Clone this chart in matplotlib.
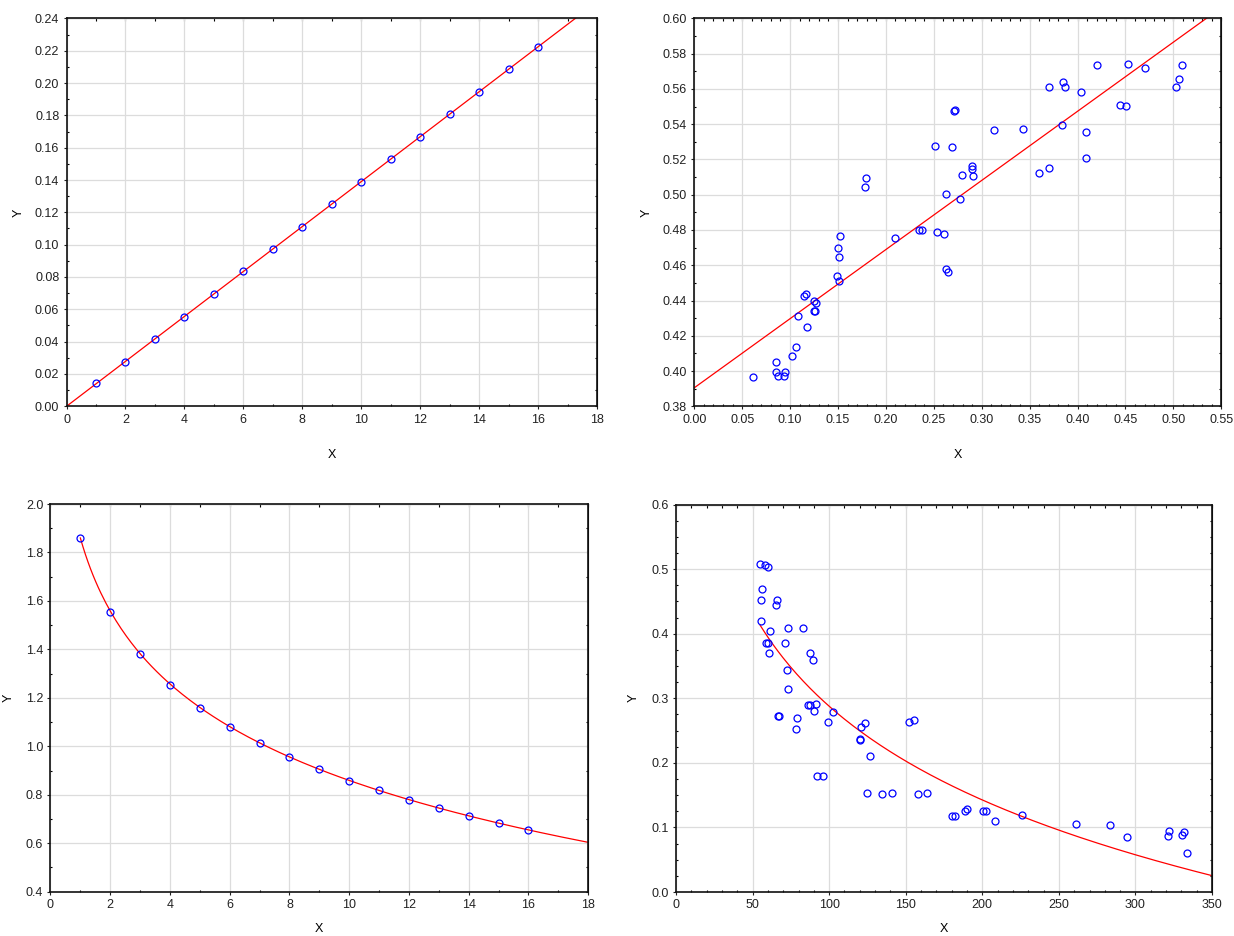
import numpy as np
import matplotlib.pyplot as plt
from matplotlib.ticker import MultipleLocator, FormatStrFormatter

plt.rcParams['font.family'] = ['Liberation Sans', 'DejaVu Sans']
plt.rcParams['font.size'] = 9

# Линейная зависимость, точные точки
x1 = [1, 2, 3, 4, 5, 6, 7, 8, 9, 10, 11, 12, 13, 14, 15, 16]
y1 = [0.0142, 0.0277, 0.0418, 0.0555, 0.0695, 0.0835, 0.0972, 0.1112,
      0.1252, 0.1390, 0.1530, 0.1668, 0.1807, 0.1947, 0.2085, 0.2225]
k1 = 0.0139

# Линейная зависимость, разброс
x2 = [0.0611, 0.0851, 0.0851, 0.0876, 0.0952, 0.0938, 0.1022, 0.1057,
      0.1081, 0.1175, 0.1150, 0.1164, 0.1248, 0.1272, 0.1251, 0.1262,
      0.1488, 0.1512, 0.1502, 0.1512, 0.1523, 0.2097, 0.2343, 0.2375,
      0.2538, 0.2611, 0.2632, 0.2646, 0.1789, 0.1778, 0.2509, 0.2689,
      0.2717, 0.2710, 0.2631, 0.2775, 0.2797, 0.2894, 0.2894, 0.2905,
      0.3131, 0.3430, 0.3599, 0.3697, 0.3707, 0.3848, 0.3866, 0.3837,
      0.4031, 0.4093, 0.4093, 0.4200, 0.4438, 0.4510, 0.4525, 0.4705,
      0.5025, 0.5061, 0.5086]
y2 = [0.3966, 0.4051, 0.3992, 0.3972, 0.3992, 0.3972, 0.4083, 0.4134,
      0.4314, 0.4250, 0.4424, 0.4437, 0.4399, 0.4384, 0.4341, 0.4341,
      0.4540, 0.4508, 0.4695, 0.4644, 0.4766, 0.4753, 0.4800, 0.4800,
      0.4791, 0.4779, 0.4580, 0.4559, 0.5094, 0.5042, 0.5275, 0.5270,
      0.5481, 0.5475, 0.5006, 0.4977, 0.5113, 0.5162, 0.5147, 0.5108,
      0.5366, 0.5374, 0.5121, 0.5153, 0.5611, 0.5640, 0.5611, 0.5396,
      0.5585, 0.5353, 0.5209, 0.5734, 0.5508, 0.5502, 0.5742, 0.5721,
      0.5611, 0.5657, 0.5734]
a2, b2 = 0.3905, 0.392

# Логарифмическая зависимость, точные точки
x3 = [1, 2, 3, 4, 5, 6, 7, 8, 9, 10, 11, 12, 13, 14, 15, 16]
y3 = [1.860, 1.555, 1.383, 1.255, 1.160, 1.081, 1.014, 0.956,
      0.905, 0.859, 0.818, 0.780, 0.745, 0.713, 0.683, 0.655]
a3, b3 = 1.86, -0.4346

# Логарифмическая зависимость, разброс
x4 = [55.0, 58.3, 60.4, 56.1, 55.4, 65.7, 65.0, 55.4, 61.3, 73.3, 82.8,
      58.7, 60.4, 60.7, 71.1, 87.4, 89.6, 72.4, 73.3, 66.5, 67.2, 79.1,
      78.3, 86.5, 87.6, 91.3, 90.2, 102.2, 99.3, 120.9, 123.3, 120.0,
      120.4, 127.0, 92.0, 96.3, 124.8, 134.3, 141.3, 158.3, 164.1, 152.2,
      155.4, 180.1, 182.0, 188.5, 190.3, 200.6, 202.6, 208.4, 226.0,
      261.5, 283.1, 294.6, 322.0, 321.3, 332.0, 330.2, 333.5]
y4 = [0.508, 0.506, 0.503, 0.469, 0.452, 0.452, 0.444, 0.420, 0.404, 0.409,
      0.409, 0.385, 0.386, 0.370, 0.385, 0.370, 0.360, 0.344, 0.314, 0.273,
      0.272, 0.270, 0.252, 0.289, 0.289, 0.291, 0.280, 0.278, 0.264, 0.256,
      0.262, 0.237, 0.236, 0.211, 0.179, 0.179, 0.153, 0.152, 0.153, 0.152,
      0.153, 0.264, 0.267, 0.117, 0.117, 0.126, 0.128, 0.126, 0.126, 0.110,
      0.119, 0.106, 0.103, 0.085, 0.095, 0.087, 0.093, 0.088, 0.061]
a4, b4 = 1.252, -0.2094

fig = plt.figure(figsize=(12.34, 9.36), dpi=100)

ax1 = fig.add_axes([0.0539, 0.5659, 0.4299, 0.4145])
ax2 = fig.add_axes([0.5626, 0.5659, 0.4271, 0.4145])
ax3 = fig.add_axes([0.0409, 0.0473, 0.4358, 0.4142])
ax4 = fig.add_axes([0.5478, 0.0470, 0.4344, 0.4140])


def setup(ax, xlim, ylim, xmaj, xmin, ymaj, ymin, xfmt, yfmt, ylab_x, xlab_y):
    ax.set_xlim(xlim)
    ax.set_ylim(ylim)
    ax.xaxis.set_major_locator(MultipleLocator(xmaj))
    ax.xaxis.set_minor_locator(MultipleLocator(xmin))
    ax.yaxis.set_major_locator(MultipleLocator(ymaj))
    ax.yaxis.set_minor_locator(MultipleLocator(ymin))
    ax.xaxis.set_major_formatter(FormatStrFormatter(xfmt))
    ax.yaxis.set_major_formatter(FormatStrFormatter(yfmt))
    ax.grid(True, which='major', color='#dcdcdc', linewidth=0.9)
    ax.set_axisbelow(True)
    ax.tick_params(which='major', direction='out', length=2.2, width=0.8,
                   pad=3, labelsize=9, colors='#222222')
    ax.tick_params(which='minor', direction='in', length=1.6, width=0.8)
    for s in ax.spines.values():
        s.set_linewidth(1.2)
        s.set_color('#111111')
    # засечки на верхней и правой границе
    top = ax.secondary_xaxis('top')
    top.xaxis.set_major_locator(MultipleLocator(xmaj))
    top.xaxis.set_minor_locator(MultipleLocator(xmin))
    top.tick_params(which='both', direction='in', length=1.8, width=0.8,
                    labeltop=False)
    right = ax.secondary_yaxis('right')
    right.yaxis.set_major_locator(MultipleLocator(ymaj))
    right.yaxis.set_minor_locator(MultipleLocator(ymin))
    right.tick_params(which='both', direction='in', length=1.8, width=0.8,
                      labelright=False)
    ax.set_xlabel('X')
    ax.set_ylabel('Y')
    ax.xaxis.label.set_va('center')
    ax.yaxis.label.set_va('center')
    ax.xaxis.set_label_coords(0.5, xlab_y)
    ax.yaxis.set_label_coords(ylab_x, 0.5)


pt = dict(linestyle='none', marker='o', markersize=5, markerfacecolor='none',
          markeredgecolor='#0000ff', markeredgewidth=0.9, zorder=3)
fit = dict(color='#ff0000', linewidth=0.9, zorder=2)

# 1
xx = np.linspace(0, 18, 50)
ax1.plot(xx, k1 * xx, **fit)
ax1.plot(x1, y1, **pt)
setup(ax1, (0, 18), (0, 0.24), 2, 1, 0.02, 0.01, '%d', '%.2f', -0.091, -0.126)

# 2
xx = np.linspace(0, 0.55, 50)
ax2.plot(xx, a2 + b2 * xx, **fit)
ax2.plot(x2, y2, **pt)
setup(ax2, (0, 0.55), (0.38, 0.60), 0.05, 0.01, 0.02, 0.01, '%.2f', '%.2f',
      -0.091, -0.126)

# 3
xx = np.linspace(min(x3), 18, 200)
ax3.plot(xx, a3 + b3 * np.log(xx), **fit)
ax3.plot(x3, y3, **pt)
setup(ax3, (0, 18), (0.4, 2.0), 2, 1, 0.2, 0.1, '%d', '%.1f', -0.078, -0.096)

# 4
xx = np.linspace(min(x4), 350, 200)
ax4.plot(xx, a4 + b4 * np.log(xx), **fit)
ax4.plot(x4, y4, **pt)
setup(ax4, (0, 350), (0, 0.6), 50, 10, 0.1, 0.025, '%d', '%.1f', -0.078, -0.096)

fig.savefig('out.png', dpi=100, facecolor='white')
